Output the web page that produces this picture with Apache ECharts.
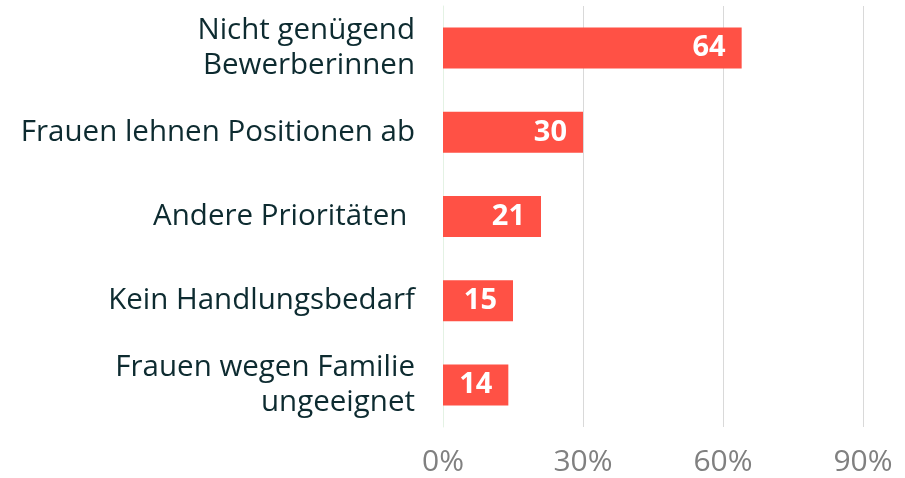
<!DOCTYPE html>
<html><head><meta charset="utf-8">
<script src="https://cdn.jsdelivr.net/npm/echarts@6/dist/echarts.min.js"></script>
<style>html,body{margin:0;padding:0;background:#fff}#c{width:905px;height:478px}</style>
</head><body><div id="c"></div>
<script>
const categories = ["Nicht genügend\nBewerberinnen", "Frauen lehnen Positionen ab", "Andere Prioritäten ", "Kein Handlungsbedarf", "Frauen wegen Familie\nungeeignet"];
const values = [64, 30, 21, 15, 14];
const xTicks = [0, 30, 60, 90];

const chart = echarts.init(document.getElementById('c'));
chart.setOption({
  animation: false,
  grid: {left: 443, right: 42, top: 6, bottom: 51, containLabel: false},
  xAxis: {
    type: 'value', min: xTicks[0], max: xTicks[xTicks.length - 1], interval: xTicks[1] - xTicks[0],
    axisLine: {show: false}, axisTick: {show: false},
    splitLine: {show: true, lineStyle: {color: '#d9d9d9', width: 1}},
    axisLabel: {formatter: v => v + '%', color: '#808080', fontSize: 30, fontFamily: 'Open Sans', margin: 20}
  },
  yAxis: {
    type: 'category', inverse: true, data: categories,
    axisLine: {show: true, lineStyle: {color: '#e4f2e4', width: 1}},
    axisTick: {show: false},
    axisLabel: {color: '#0d2b30', fontSize: 29.5, fontFamily: 'Open Sans', lineHeight: 35, margin: 28, align: 'right'}
  },
  series: [{
    type: 'bar', data: values, barWidth: 41,
    itemStyle: {color: '#ff5145'},
    label: {show: true, position: 'insideRight', distance: 16, color: '#fff', fontWeight: 'bold', fontSize: 29, fontFamily: 'Open Sans'}
  }]
});
</script></body></html>
